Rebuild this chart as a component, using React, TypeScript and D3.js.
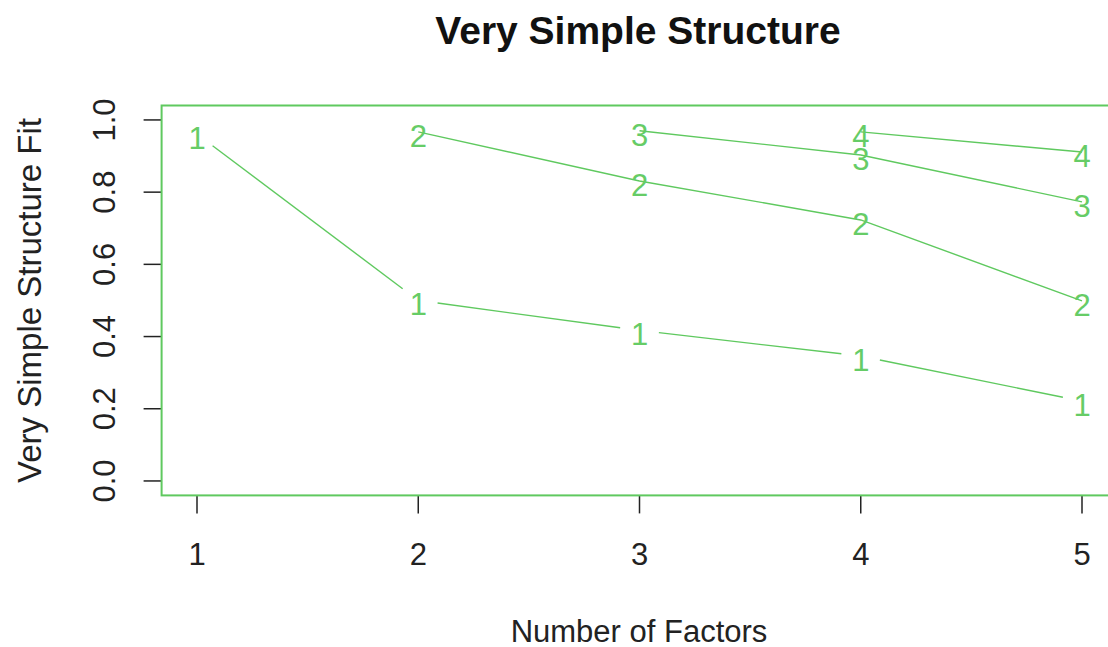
import React from "react";
import * as d3 from "d3";

// Number of factors extracted (x) and VSS fit by complexity level
const factors = [1, 2, 3, 4, 5];
const complexity1 = [0.961, 0.5, 0.417, 0.346, 0.221];
const complexity2 = [null, 0.967, 0.831, 0.723, 0.499];
const complexity3 = [null, null, 0.97, 0.903, 0.773];
const complexity4 = [null, null, null, 0.967, 0.911];
const xTicks = [1, 2, 3, 4, 5];
const yTicks = [0, 0.2, 0.4, 0.6, 0.8, 1.0];

const W = 1108;
const H = 647;
const FONT = "'Liberation Sans', Arial, sans-serif";
const GREEN = "#5fc95f";
const LABEL_GREEN = "#66cc66";

export default function App() {
  // plot region with R-style 4% padding on each axis
  const x = d3.scaleLinear().domain([0.84, 5.16]).range([161.6, 1117.4]);
  const y = d3.scaleLinear().domain([-0.04, 1.04]).range([495.4, 105.5]);

  const gap = 19.5;
  const fs = 31;

  const pts = (vals: (number | null)[]) =>
    factors
      .map((f, i) => (vals[i] == null ? null : { px: x(f), py: y(vals[i] as number) }))
      .filter((d) => d != null) as { px: number; py: number }[];

  // first series: lines broken around each point (type "b")
  const s1 = pts(complexity1);
  const gapSegs = s1.slice(1).map((b, i) => {
    const a = s1[i];
    const dx = b.px - a.px;
    const dy = b.py - a.py;
    const len = Math.hypot(dx, dy);
    const ux = dx / len;
    const uy = dy / len;
    return {
      x1: a.px + ux * gap,
      y1: a.py + uy * gap,
      x2: b.px - ux * gap,
      y2: b.py - uy * gap,
    };
  });

  const line = d3
    .line<{ px: number; py: number }>()
    .x((d) => d.px)
    .y((d) => d.py);

  const others = [
    { label: "2", vals: complexity2 },
    { label: "3", vals: complexity3 },
    { label: "4", vals: complexity4 },
  ];

  const [x0, x1] = x.range();
  const [yb, yt] = y.range();

  return (
    <svg
      width={W}
      height={H}
      style={{ position: "absolute", left: 0, top: 0, background: "#fff" }}
      fontFamily={FONT}
    >
      <rect x={0} y={0} width={W} height={H} fill="#fff" />
      <text x={638} y={44} textAnchor="middle" fontSize={39} fontWeight="bold" fill="#111">
        Very Simple Structure
      </text>

      {/* x axis */}
      {xTicks.map((t) => (
        <g key={"xt" + t}>
          <line x1={x(t)} x2={x(t)} y1={yb} y2={yb + 18} stroke="#222" strokeWidth={1.5} />
          <text x={x(t)} y={565} textAnchor="middle" fontSize={fs} fill="#222">
            {t}
          </text>
        </g>
      ))}
      <text x={639} y={642} textAnchor="middle" fontSize={fs} fill="#222">
        Number of Factors
      </text>

      {/* y axis */}
      {yTicks.map((t) => (
        <g key={"yt" + t}>
          <line x1={x0 - 18} x2={x0} y1={y(t)} y2={y(t)} stroke="#222" strokeWidth={1.5} />
          <text
            transform={`translate(115, ${y(t)}) rotate(-90)`}
            textAnchor="middle"
            fontSize={fs}
            fill="#222"
          >
            {t.toFixed(1)}
          </text>
        </g>
      ))}
      <text
        transform={`translate(41, ${(yb + yt) / 2}) rotate(-90)`}
        textAnchor="middle"
        fontSize={33}
        fill="#222"
      >
        Very Simple Structure Fit
      </text>

      {/* plot box */}
      <rect
        x={x0}
        y={yt}
        width={x1 - x0}
        height={yb - yt}
        fill="none"
        stroke={GREEN}
        strokeWidth={2}
      />

      {gapSegs.map((s, i) => (
        <line key={"g" + i} {...s} stroke={GREEN} strokeWidth={1.4} />
      ))}
      {s1.map((p, i) => (
        <text key={"p1" + i} x={p.px} y={p.py + 15} textAnchor="middle" fontSize={fs} fill={LABEL_GREEN}>
          1
        </text>
      ))}

      {others.map((s) => {
        const p = pts(s.vals);
        return (
          <g key={"s" + s.label}>
            <path d={line(p) || ""} fill="none" stroke={GREEN} strokeWidth={1.4} />
            {p.map((q, i) => (
              <text key={i} x={q.px} y={q.py + 15} textAnchor="middle" fontSize={fs} fill={LABEL_GREEN}>
                {s.label}
              </text>
            ))}
          </g>
        );
      })}
    </svg>
  );
}
